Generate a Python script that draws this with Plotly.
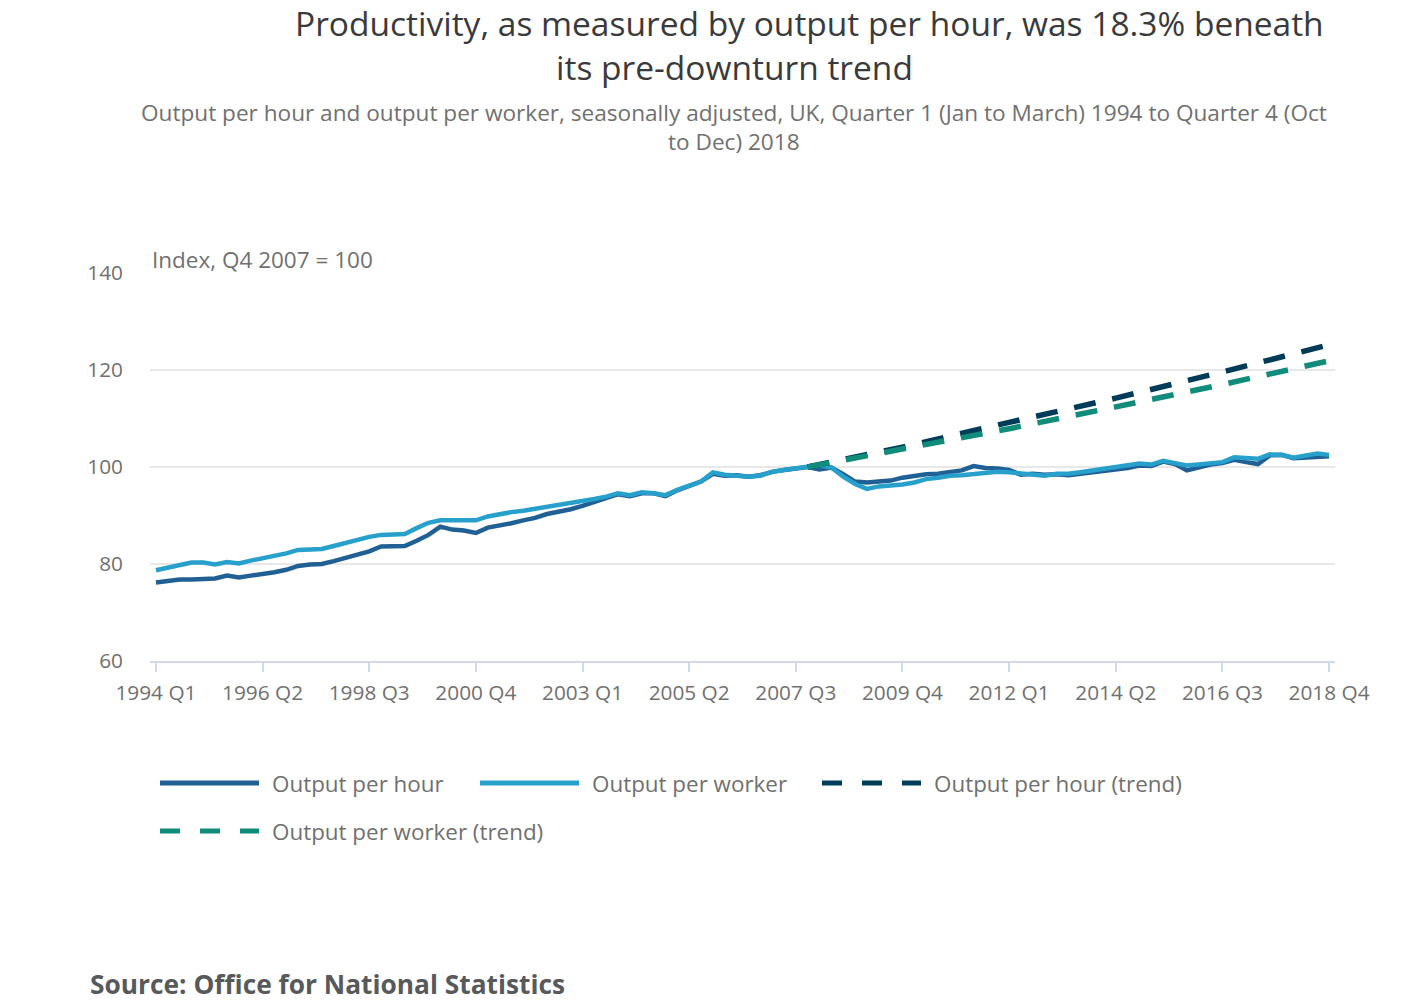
import plotly.graph_objects as go

# ---------------- data ----------------
years = list(range(1994, 2019))
quarters = [f"{y} Q{q}" for y in years for q in range(1, 5)]

output_per_hour = [
    76.2, 76.6, 76.8, 76.8, 76.8, 77.0, 77.6, 77.2, 77.6, 77.9,
    78.3, 78.8, 79.6, 79.9, 80.0, 80.6, 81.2, 82.0, 82.6, 83.6,
    83.7, 83.7, 84.8, 86.0, 87.7, 87.1, 86.9, 86.4, 87.5, 87.9,
    88.4, 89.0, 89.5, 90.3, 90.7, 91.3, 92.0, 92.8, 93.4, 94.4,
    94.0, 94.6, 94.6, 94.0, 95.2, 96.0, 97.0, 98.6, 98.2, 98.3,
    98.0, 98.3, 99.0, 99.4, 99.8, 100.0, 99.5, 99.9, 98.5, 97.0,
    96.8, 97.0, 97.2, 97.8, 98.2, 98.5, 98.6, 98.9, 99.3, 100.2,
    99.8, 99.7, 99.4, 98.4, 98.6, 98.4, 98.5, 98.3, 98.6, 98.8,
    99.0, 99.3, 99.8, 100.3, 100.2, 101.1, 100.6, 99.3, 100.0, 100.5,
    100.8, 101.5, 101.0, 100.6, 102.4, 102.5, 101.8, 102.0, 102.1, 102.2,
]

output_per_worker = [
    78.7, 79.3, 79.8, 80.3, 80.3, 79.9, 80.4, 80.1, 80.7, 81.2,
    81.6, 82.2, 82.9, 82.9, 83.1, 83.7, 84.4, 85.1, 85.6, 86.0,
    86.1, 86.2, 87.4, 88.5, 89.0, 89.0, 89.0, 89.0, 89.8, 90.3,
    90.7, 91.0, 91.4, 91.7, 92.0, 92.4, 92.8, 93.4, 93.9, 94.6,
    94.2, 94.8, 94.6, 94.2, 95.3, 96.2, 97.0, 98.9, 98.4, 98.2,
    98.0, 98.2, 99.0, 99.4, 99.8, 100.0, 100.4, 99.9, 98.0, 96.5,
    95.5, 96.0, 96.1, 96.4, 96.8, 97.5, 97.8, 98.2, 98.3, 98.6,
    98.9, 99.0, 98.9, 98.6, 98.4, 98.2, 98.6, 98.6, 98.9, 99.3,
    99.7, 99.9, 100.3, 100.7, 100.5, 101.3, 100.8, 100.3, 100.5, 100.7,
    101.0, 102.0, 101.9, 101.7, 102.6, 102.5, 101.9, 102.3, 102.8, 102.5,
]

trend_quarters = ["2007 Q4", "2009 Q4", "2012 Q1", "2014 Q2", "2016 Q3", "2018 Q4"]
output_per_hour_trend = [100.0, 104.1, 109.2, 114.2, 119.6, 125.2]
output_per_worker_trend = [100.0, 103.7, 107.9, 112.4, 117.0, 121.9]

tick_labels = ["1994 Q1", "1996 Q2", "1998 Q3", "2000 Q4", "2003 Q1", "2005 Q2",
               "2007 Q3", "2009 Q4", "2012 Q1", "2014 Q2", "2016 Q3", "2018 Q4"]
y_ticks = [60, 80, 100, 120, 140]

series_names = ["Output per hour", "Output per worker",
                "Output per hour (trend)", "Output per worker (trend)"]
colors = ["#206095", "#27a0cc", "#003c57", "#118c7b"]

# ---------------- figure ----------------
idx = {q: i for i, q in enumerate(quarters)}
x_all = [idx[q] for q in quarters]
x_trend = [idx[q] for q in trend_quarters]

FONT = "Open Sans"
GREY = "#707070"

fig = go.Figure()
fig.add_trace(go.Scatter(x=x_all, y=output_per_hour, mode="lines", name=series_names[0],
                         line=dict(color=colors[0], width=4.5)))
fig.add_trace(go.Scatter(x=x_all, y=output_per_worker, mode="lines", name=series_names[1],
                         line=dict(color=colors[1], width=4.5)))
fig.add_trace(go.Scatter(x=x_trend, y=output_per_hour_trend, mode="lines", name=series_names[2],
                         line=dict(color=colors[2], width=5.5, dash="22px,17px")))
fig.add_trace(go.Scatter(x=x_trend, y=output_per_worker_trend, mode="lines", name=series_names[3],
                         line=dict(color=colors[3], width=5.5, dash="22px,17px")))

L, R, T, B = 150, 1335, 273, 661


def px(xp):
    return (xp - L) / (R - L)


def py(yp):
    return (B - yp) / (B - T)


annotations = [
    dict(text="Productivity, as measured by output per hour, was 18.3% beneath",
         x=px(809), y=py(23), font=dict(size=33.5, color="#3a3a3c", family=FONT)),
    dict(text="its pre-downturn trend",
         x=px(734), y=py(67), font=dict(size=33.5, color="#3a3a3c", family=FONT)),
    dict(text="Output per hour and output per worker, seasonally adjusted, UK, Quarter 1 (Jan to March) 1994 to Quarter 4 (Oct",
         x=px(734), y=py(113), font=dict(size=22.6, color=GREY, family=FONT)),
    dict(text="to Dec) 2018",
         x=px(734), y=py(141), font=dict(size=22.6, color=GREY, family=FONT)),
    dict(text="Index, Q4 2007 = 100", x=0, xanchor="left", y=py(260),
         font=dict(size=22.5, color=GREY, family=FONT)),
    dict(text="<b>Source: Office for National Statistics</b>", x=px(88), xanchor="left",
         y=py(984), font=dict(size=26.3, color="#58595b", family=FONT)),
]
for a in annotations:
    a.setdefault("xanchor", "center")
    a.update(xref="paper", yref="paper", yanchor="middle", showarrow=False)

# manual legend
legend_items = [
    (160, 783, 0, "solid"),
    (480, 783, 1, "solid"),
    (822, 783, 2, "dash"),
    (160, 831, 3, "dash"),
]
shapes = []
for x0, yy, k, style in legend_items:
    shapes.append(dict(type="line", xref="paper", yref="paper",
                       x0=px(x0), x1=px(x0 + 99), y0=py(yy), y1=py(yy),
                       line=dict(color=colors[k], width=5,
                                 dash="solid" if style == "solid" else "20px,20px")))
    annotations.append(dict(text=series_names[k], xref="paper", yref="paper",
                            x=px(x0 + 110), y=py(yy), xanchor="left", yanchor="middle",
                            showarrow=False, font=dict(size=22.4, color=GREY, family=FONT)))

fig.update_layout(
    width=1415, height=1001,
    margin=dict(l=L, r=1415 - R, t=T, b=1001 - B, autoexpand=False),
    paper_bgcolor="white", plot_bgcolor="white",
    showlegend=False,
    font=dict(family=FONT, color=GREY),
    annotations=annotations,
    shapes=shapes,
    xaxis=dict(range=[-0.5, 99.5], tickmode="array",
               tickvals=[idx[t] for t in tick_labels], ticktext=tick_labels,
               showgrid=False, zeroline=False, showline=True, linecolor="#d3d9ec", linewidth=2,
               ticks="outside", ticklen=9, tickwidth=2, tickcolor="#d3d9ec",
               tickfont=dict(size=20.8, color=GREY, family=FONT), ticklabelstandoff=3),
    yaxis=dict(range=[60, 140], tickmode="array", tickvals=y_ticks,
               showgrid=True, gridcolor="#e8e8e8", gridwidth=2, zeroline=False,
               showline=False, ticks="", tickfont=dict(size=20.8, color=GREY, family=FONT),
               ticklabelstandoff=26),
)

fig.write_html("out.html")
